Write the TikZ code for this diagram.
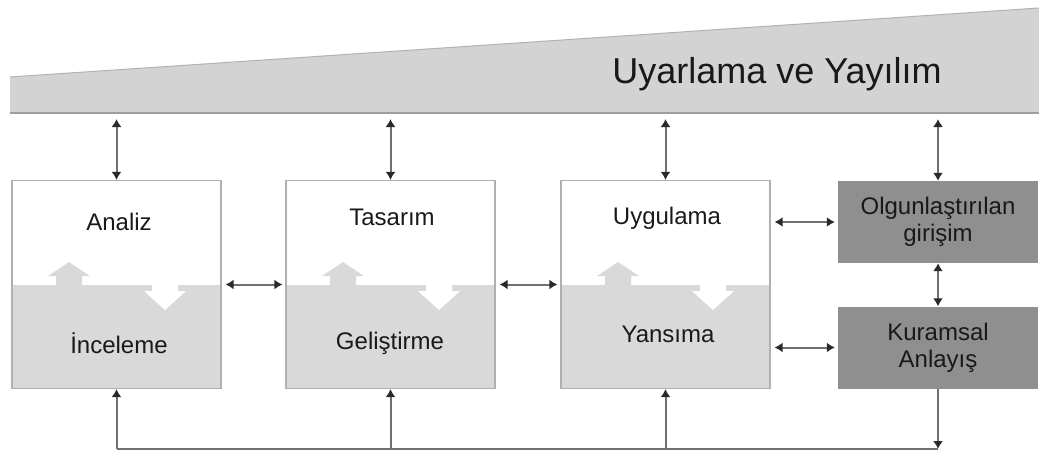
\documentclass[tikz,border=0pt]{standalone}
\usepackage{fontspec}
\setmainfont{Liberation Sans}
\usetikzlibrary{arrows.meta}
\definecolor{lgray}{HTML}{D9D9D9}
\definecolor{bgray}{HTML}{D3D3D3}
\definecolor{dgray}{HTML}{8F8F8F}
\definecolor{egray}{HTML}{B0B0B0}
\definecolor{lnc}{HTML}{707070}
\definecolor{tipc}{HTML}{2A2A2A}

\begin{document}
\begin{tikzpicture}[x=1pt, y=-1pt,
     >={Latex[length=8pt,width=10pt,color=tipc]},
     lbox/.style={draw=egray, line width=1.3pt, minimum width=209pt, minimum height=208pt, inner sep=0pt},
     dbox/.style={fill=dgray, minimum width=200pt, minimum height=82pt, inner sep=0pt, align=center,
                  font=\fontsize{24}{27}\selectfont, text=black!90},
     lab/.style={anchor=base, font=\fontsize{24}{29}\selectfont, text=black!90},
     con/.style={draw=lnc, line width=2pt}]
\useasboundingbox (0,0) rectangle (1039,455);
%
\fill[bgray] (10,77) -- (1039,8) -- (1039,113) -- (10,113) -- cycle;
\draw[gray!60, line width=1pt] (10,77) -- (1039,8);
\draw[gray!75, line width=2.5pt] (10,113) -- (1039,113);
             \node [lab, font=\fontsize{36}{42}\selectfont] at (777,83) (uy) {Uyarlama ve Yayılım};
%
\fill[lgray] (12,285) rectangle (221,388);
\fill[lgray] (286,285) rectangle (495,388);
\fill[lgray] (561,285) rectangle (770,388);
%
\fill[lgray] (56,285) -- (56,276) -- (48,276) -- (69,262) -- (90,276) -- (82,276) -- (82,285) -- cycle;
\fill[white] (152,284) -- (152,291) -- (144,291) -- (165,310) -- (186,291) -- (178,291) -- (178,284) -- cycle;
\fill[lgray] (330,285) -- (330,276) -- (322,276) -- (343,262) -- (364,276) -- (356,276) -- (356,285) -- cycle;
\fill[white] (426,284) -- (426,291) -- (418,291) -- (439,310) -- (460,291) -- (452,291) -- (452,284) -- cycle;
\fill[lgray] (605,285) -- (605,276) -- (597,276) -- (618,262) -- (639,276) -- (631,276) -- (631,285) -- cycle;
\fill[white] (700,284) -- (700,291) -- (692,291) -- (713,310) -- (734,291) -- (726,291) -- (726,284) -- cycle;
%
             \node [lbox] at (116.5,284.5) (anl) {};
              \node [lbox] at (390.5,284.5) (tas) {};
                   \node [lbox] at (665.5,284.5) (uyg) {};
                       \node [dbox] at (938,222) (olg) {Olgunlaştırılan\\girişim};
                        \node [dbox] at (938,347.5) (kur) {Kuramsal\\Anlayış};
%
                          \node [lab] at (119,230) (an) {Analiz};
                           \node [lab] at (119,353) (in) {İnceleme};
                           \node [lab] at (392,225) (ts) {Tasarım};
                           \node [lab] at (390,349) (ge) {Geliştirme};
                           \node [lab] at (667,224) (ug) {Uygulama};
                           \node [lab] at (668,342) (ya) {Yansıma};
%
\coordinate (t1) at (anl |- 0,114);
\coordinate (t2) at (tas |- 0,114);
\coordinate (t3) at (uyg |- 0,114);
\coordinate (t4) at (olg |- 0,114);
\coordinate (b1) at (anl |- 0,449);
\coordinate (b4) at (kur |- 0,449);
%
\draw[con, <->, shorten <=5pt] (t1)--(anl);
\draw[con, <->, shorten <=5pt] (t2)--(tas);
\draw[con, <->, shorten <=5pt] (t3)--(uyg);
\draw[con, <->, shorten <=5pt] (t4)--(olg);
\draw[con, <->, shorten <=4pt, shorten >=3pt] (anl)--(tas);
\draw[con, <->, shorten <=4pt, shorten >=3pt] (tas)--(uyg);
\draw[con, <->, shorten <=4pt, shorten >=3pt] (olg.west -| uyg.east)--(olg);
\draw[con, <->, shorten <=4pt, shorten >=3pt] (kur.west -| uyg.east)--(kur);
\draw[con, <->] (olg)--(kur);
\draw[con, ->] (kur)--(b4);
\draw[con] (b1)--(b4);
\draw[con, ->] (b1)--(anl);
\draw[con, ->] (tas |- b1)--(tas);
\draw[con, ->] (uyg |- b1)--(uyg);
\end{tikzpicture}
\end{document}
